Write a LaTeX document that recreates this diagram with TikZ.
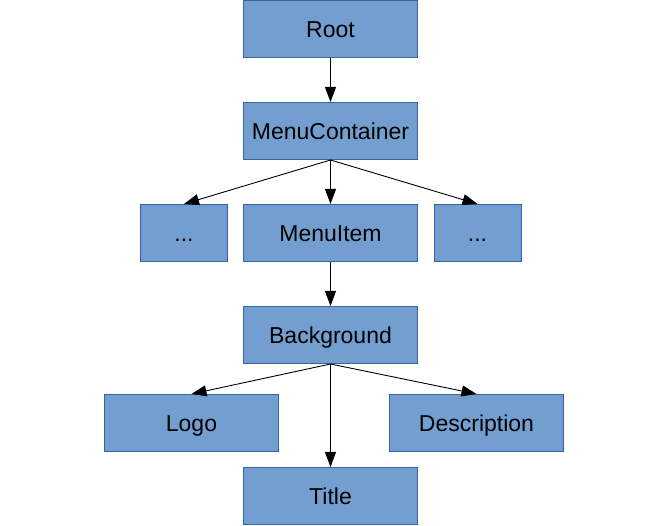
\documentclass[tikz,border=0pt]{standalone}
\usepackage{fontspec}
\setmainfont{Liberation Sans}
\usetikzlibrary{arrows.meta}
\definecolor{boxfill}{HTML}{729FCF}
\definecolor{boxdraw}{HTML}{3465A4}
\begin{document}
\begin{tikzpicture}[x=1pt,y=-1pt,
  box/.style={draw=boxdraw,fill=boxfill,line width=1pt,minimum height=57pt,inner sep=0pt,
    text height=16.5pt,text depth=0pt,
    font=\fontsize{23}{27}\selectfont},
  wide/.style={box,minimum width=174pt},
  narrow/.style={box,minimum width=87pt},
  conn/.style={line width=0.9pt,-{Triangle[length=15pt,width=11pt]}}]
\useasboundingbox (0,0) rectangle (670,526);
\node[wide] (root) at (330.5,29.5) {Root};
\node[wide] (mc) at (330.5,131) {MenuContainer};
\node[narrow] (d1) at (184,233) {...};
\node[wide] (mi) at (330.5,233) {MenuItem};
\node[narrow] (d2) at (477.5,233) {...};
\node[wide] (bg) at (330.5,335) {Background};
\node[wide] (logo) at (191.5,423) {Logo};
\node[wide] (desc) at (476.5,423) {Description};
\node[wide] (title) at (330.5,496) {Title};
\draw[conn] (root.south) -- (mc.north);
\draw[conn] (mc.south) -- (d1.north);
\draw[conn] (mc.south) -- (mi.north);
\draw[conn] (mc.south) -- (d2.north);
\draw[conn] (mi.south) -- (bg.north);
\draw[conn] (bg.south) -- (logo.north);
\draw[conn] (bg.south) -- (title.north);
\draw[conn] (bg.south) -- (desc.north);
\end{tikzpicture}
\end{document}
